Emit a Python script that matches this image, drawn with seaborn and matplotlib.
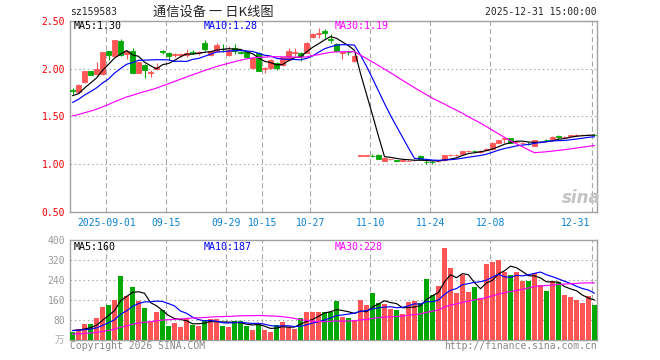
import numpy as np
import pandas as pd
import matplotlib
matplotlib.use("Agg")
import matplotlib.pyplot as plt
import matplotlib.transforms as mtransforms
import seaborn as sns

# ---------------- data ----------------
open_p = [1.775, 1.75, 1.856, 1.97, 1.94, 1.94, 2.18, 2.13, 2.29, 2.15,
          2.18, 1.955, 2.04, 1.95, 1.995, 2.18, 2.16, 2.14, 2.145, 2.14,
          2.175, 2.16, 2.27, 2.14, 2.18, 2.21, 2.147, 2.22, 2.175, 2.17,
          2.007, 2.165, 2.00, 2.007, 2.06, 2.04, 2.095, 2.165, 2.165, 2.165,
          2.33, 2.36, 2.40, 2.31, 2.263, 2.16, 2.175, 2.077, 1.085, 1.086,
          1.087, 1.095, 1.03, 1.048, 1.037, 1.034, 1.031, 1.038, 1.085, 1.022,
          1.017, 1.028, 1.04, 1.088, 1.088, 1.105, 1.131, 1.137, 1.12, 1.15,
          1.153, 1.22, 1.262, 1.267, 1.23, 1.22, 1.207, 1.19, 1.225, 1.252,
          1.257, 1.288, 1.283, 1.295, 1.30, 1.303, 1.304, 1.305]
high_p = [1.80, 1.84, 1.975, 1.98, 2.07, 2.17, 2.19, 2.30, 2.31, 2.20,
          2.22, 2.07, 2.045, 1.99, 2.06, 2.20, 2.17, 2.16, 2.16, 2.21,
          2.20, 2.18, 2.30, 2.19, 2.27, 2.26, 2.24, 2.26, 2.18, 2.18,
          2.12, 2.17, 2.02, 2.10, 2.065, 2.125, 2.22, 2.22, 2.17, 2.28,
          2.37, 2.43, 2.42, 2.36, 2.27, 2.175, 2.20, 2.14, 1.092, 1.095,
          1.10, 1.10, 1.07, 1.055, 1.045, 1.04, 1.036, 1.045, 1.09, 1.045,
          1.025, 1.04, 1.098, 1.10, 1.10, 1.14, 1.145, 1.15, 1.15, 1.165,
          1.225, 1.255, 1.275, 1.27, 1.24, 1.23, 1.23, 1.255, 1.24, 1.265,
          1.29, 1.30, 1.295, 1.305, 1.31, 1.312, 1.313, 1.31]
low_p = [1.73, 1.74, 1.85, 1.93, 1.93, 1.93, 2.09, 2.13, 2.13, 2.10,
         1.95, 1.95, 1.90, 1.91, 1.985, 2.15, 2.09, 2.12, 2.12, 2.12,
         2.15, 2.14, 2.18, 2.13, 2.17, 2.17, 2.13, 2.15, 2.15, 2.11,
         2.00, 1.97, 1.955, 2.00, 1.99, 2.03, 2.09, 2.13, 2.08, 2.16,
         2.32, 2.32, 2.32, 2.27, 2.17, 2.10, 2.14, 2.07, 1.083, 1.08,
         1.075, 1.05, 1.025, 1.04, 1.025, 1.03, 1.025, 1.03, 1.045, 1.00,
         0.995, 1.02, 1.035, 1.08, 1.08, 1.10, 1.12, 1.125, 1.11, 1.14,
         1.15, 1.215, 1.215, 1.215, 1.22, 1.21, 1.195, 1.185, 1.215, 1.235,
         1.255, 1.26, 1.278, 1.288, 1.292, 1.298, 1.298, 1.295]
close_p = [1.77, 1.83, 1.97, 1.937, 2.00, 2.17, 2.147, 2.30, 2.14, 2.19,
           1.95, 2.066, 1.99, 1.96, 2.02, 2.17, 2.13, 2.15, 2.155, 2.16,
           2.165, 2.17, 2.21, 2.18, 2.25, 2.205, 2.20, 2.19, 2.165, 2.12,
           2.11, 1.98, 2.01, 2.095, 2.007, 2.12, 2.18, 2.175, 2.13, 2.27,
           2.36, 2.37, 2.375, 2.305, 2.18, 2.17, 2.17, 2.137, 1.088, 1.089,
           1.084, 1.054, 1.065, 1.05, 1.034, 1.036, 1.033, 1.04, 1.05, 1.02,
           1.015, 1.03, 1.095, 1.09, 1.09, 1.135, 1.133, 1.135, 1.14, 1.153,
           1.22, 1.25, 1.267, 1.22, 1.233, 1.222, 1.205, 1.25, 1.228, 1.25,
           1.28, 1.285, 1.285, 1.298, 1.303, 1.306, 1.307, 1.302]
volume = [34, 44, 64, 64, 89, 133, 141, 161, 258, 177,
          213, 157, 129, 72, 113, 121, 56, 68, 52, 89,
          60, 56, 80, 85, 85, 56, 52, 76, 76, 56,
          40, 64, 40, 32, 60, 72, 52, 44, 89, 113,
          113, 113, 113, 113, 157, 93, 89, 80, 161, 141,
          189, 149, 145, 125, 121, 105, 153, 157, 149, 246,
          181, 217, 370, 290, 189, 262, 193, 213, 169, 306,
          313, 322, 274, 262, 274, 238, 238, 270, 221, 197,
          236, 234, 181, 174, 160, 148, 177, 141]
# sessions before the visible window (only feed the moving averages)
prior_close = [1.40, 1.41, 1.42, 1.41, 1.40, 1.42, 1.43, 1.42, 1.41, 1.43,
               1.44, 1.43, 1.45, 1.44, 1.46, 1.45, 1.44, 1.46, 1.47, 1.47,
               1.50, 1.53, 1.57, 1.61, 1.66, 1.725, 1.675, 1.672, 1.738]
prior_volume = [15, 18, 14, 20, 16, 17, 19, 15, 18, 16,
                17, 20, 14, 18, 16, 19, 17, 15, 18, 14,
                35, 40, 38, 42, 35, 36, 42, 38, 40]
tick_dates = ["2025-09-01", "2025-09-15", "2025-09-29", "2025-10-15", "2025-10-27",
              "2025-11-10", "2025-11-24", "2025-12-08", "2025-12-31"]
tick_labels = ["2025-09-01", "09-15", "09-29", "10-15", "10-27",
               "11-10", "11-24", "12-08", "12-31"]
price_ticks = [0.5, 1.0, 1.5, 2.0, 2.5]
volume_ticks = [0, 80, 160, 240, 320, 400]
code = "sz159583"
title = "通信设备 一 日K线图"
stamp = "2025-12-31 15:00:00"

# ---------------- styling ----------------
sns.set_theme(style="white")
plt.rcParams["font.family"] = ["DejaVu Sans Mono", "Noto Sans CJK SC"]
UP, DOWN = "#ff5555", "#00a800"
GRID = "#a8a8a8"
TICKBLUE = "#0a80d0"

n = len(close_p)
days = pd.bdate_range("2025-08-01", "2025-12-31")
days = days[(days < "2025-10-01") | (days > "2025-10-08")][-n:]
df = pd.DataFrame({"i": np.arange(n), "open": open_p, "high": high_p,
                   "low": low_p, "close": close_p, "vol": volume})
df["dir"] = np.where(df["close"] >= df["open"], "up", "down")
c_all = pd.Series(prior_close + close_p)
v_all = pd.Series(prior_volume + volume)
for w in (5, 10, 30):
    df[f"ma{w}"] = c_all.rolling(w).mean().iloc[-n:].to_numpy()
    df[f"vma{w}"] = v_all.rolling(w).mean().iloc[-n:].to_numpy()
cols = [UP if d == "up" else DOWN for d in df["dir"]]

W, H = 660, 360
fig = plt.figure(figsize=(W / 100, H / 100), dpi=100)
fig.patch.set_facecolor("white")


def rect(l, t, r, b):
    return [l / W, 1 - b / H, (r - l) / W, (b - t) / H]


axp = fig.add_axes(rect(70, 21, 597, 211.5))
axv = fig.add_axes(rect(70, 240, 597, 340))

tick_pos = [days.get_loc(pd.Timestamp(d)) - 0.35 for d in tick_dates]

# ---- price panel ----
axp.vlines(df["i"], df["low"], df["high"], colors=cols, lw=0.8, zorder=3)
body = (df["close"] - df["open"]).abs()
axp.bar(df["i"], body, bottom=df[["open", "close"]].min(axis=1), width=0.83,
        color=cols, edgecolor=cols, linewidth=0.6, zorder=4)
for col, c in (("ma5", "black"), ("ma10", "#0000ff"), ("ma30", "#ff00ff")):
    sns.lineplot(data=df, x="i", y=col, color=c, lw=0.85, ax=axp, zorder=5,
                 legend=False)

# ---- volume panel ----
sns.barplot(data=df, x="i", y="vol", hue="dir", palette={"up": UP, "down": DOWN},
            native_scale=True, width=0.83, saturation=1, dodge=False,
            errorbar=None, legend=False, ax=axv, zorder=3, linewidth=0)
for col, c in (("vma5", "black"), ("vma10", "#0000ff"), ("vma30", "#ff00ff")):
    sns.lineplot(data=df, x="i", y=col, color=c, lw=0.85, ax=axv, zorder=5,
                 legend=False)

for ax, lo, hi, hl in ((axp, 0.5, 2.5, price_ticks[1:-1]),
                       (axv, 0, 400, volume_ticks[1:-1])):
    ax.set_xlim(-0.42, n - 0.58)
    ax.set_ylim(lo, hi)
    ax.set_xlabel("")
    ax.set_ylabel("")
    for s in ax.spines.values():
        s.set_color("#a0a0a0")
        s.set_linewidth(1.0)
    for y in hl:
        ax.axhline(y, color=GRID, lw=0.8, ls=(0, (1.3, 2.6)), zorder=1)
    for x in tick_pos:
        ax.axvline(x, color=GRID, lw=0.8, ls=(0, (4.5, 2.8)), zorder=1)
    ax.tick_params(length=0)

axp.set_yticks(price_ticks, [f"{v:.2f}" for v in price_ticks])
axp.tick_params(axis="y", colors="#ee0000", labelsize=7, pad=3.5)
axp.set_xticks(tick_pos, tick_labels)
axp.tick_params(axis="x", colors=TICKBLUE, labelsize=7, pad=5)
last = axp.get_xticklabels()[-1]
last.set_horizontalalignment("right")
last.set_transform(last.get_transform() +
                   mtransforms.ScaledTranslation(-2 / 100, 0, fig.dpi_scale_trans))

axv.set_yticks(volume_ticks[1:], [str(v) for v in volume_ticks[1:]])
axv.tick_params(axis="y", colors="#999999", labelsize=7, pad=3.5)
axv.set_xticks([])


def ftext(x, y, s, **kw):
    kw.setdefault("fontsize", 7)
    kw.setdefault("va", "center")
    fig.text(x / W, 1 - y / H, s, **kw)


ftext(70, 12, code, ha="left")
ftext(213.5, 12, title, ha="center", fontsize=9.5, family=["Noto Sans CJK SC"])
ftext(597, 12, stamp, ha="right")

ftext(74, 26, f"MA5:{df['ma5'].iloc[-1]:.2f}", color="black", fontsize=7.2)
ftext(204, 26, f"MA10:{df['ma10'].iloc[-1]:.2f}", color="#0000ff", fontsize=7.2)
ftext(335, 26, f"MA30:{df['ma30'].iloc[-1]:.2f}", color="#ff00ff", fontsize=7.2)
ftext(74, 246.5, f"MA5:{df['vma5'].iloc[-1]:.0f}", color="black", fontsize=7.2)
ftext(204, 246.5, f"MA10:{df['vma10'].iloc[-1]:.0f}", color="#0000ff", fontsize=7.2)
ftext(335, 246.5, f"MA30:{df['vma30'].iloc[-1]:.0f}", color="#ff00ff", fontsize=7.2)

ftext(64, 340, "万", ha="right", color="#aaaaaa", fontsize=7,
      family=["Noto Sans CJK SC"])
ftext(70, 346, "Copyright 2026 SINA.COM", ha="left", color="#888888")
ftext(597, 346, "http://finance.sina.com.cn", ha="right", color="#888888")
ftext(581, 198, "sina", ha="center", color="#c4c4c4", fontsize=12,
      style="italic", weight="bold", family=["DejaVu Sans"])

fig.savefig("out.png", dpi=100)
